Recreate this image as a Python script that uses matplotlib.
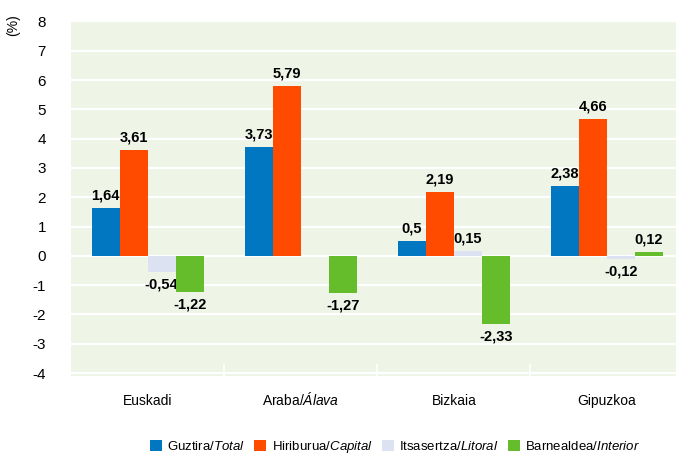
import numpy as np
import matplotlib
matplotlib.use('Agg')
import matplotlib.pyplot as plt
from matplotlib.ticker import FixedLocator

# ------------------------------------------------------------
# data
# ------------------------------------------------------------
categories = ['Euskadi', r'Araba/$\it{Álava}$', 'Bizkaia', 'Gipuzkoa']
series_names = [r'Guztira/$\it{Total}$', r'Hiriburua/$\it{Capital}$',
                r'Itsasertza/$\it{Litoral}$', r'Barnealdea/$\it{Interior}$']
total = [1.64, 3.73, 0.5, 2.38]
capital = [3.61, 5.79, 2.19, 4.66]
litoral = [-0.54, np.nan, 0.15, -0.12]
interior = [-1.22, -1.27, -2.33, 0.12]
yticks = list(range(-4, 9))

colors = ['#0077c0', '#ff4b00', '#dce2f1', '#66bd2b']
BG = '#eef4e6'

FONT = ['Liberation Sans', 'DejaVu Sans']
plt.rcParams['font.family'] = FONT
plt.rcParams['mathtext.fontset'] = 'custom'
plt.rcParams['mathtext.rm'] = 'Liberation Sans'
plt.rcParams['mathtext.it'] = 'Liberation Sans:italic'
plt.rcParams['mathtext.bf'] = 'Liberation Sans:bold'

W, H = 676, 457
fig = plt.figure(figsize=(W / 100, H / 100), dpi=100)
ax = fig.add_axes([71 / W, (H - 376) / H, (W - 71) / W, (376 - 20) / H])
ax.set_facecolor(BG)

x = np.arange(len(categories))
bw = 0.183
series = [total, capital, litoral, interior]
for i, (vals, c, name) in enumerate(zip(series, colors, series_names)):
    pos = x + (i - 1.5) * bw
    vals = np.array(vals, dtype=float)
    ax.bar(pos, vals, width=bw, color=c, label=name, zorder=3)
    for px, v in zip(pos, vals):
        if np.isnan(v):
            continue
        txt = f'{v:g}'.replace('.', ',')
        if v >= 0:
            ax.annotate(txt, (px, v), xytext=(0, 4), textcoords='offset points',
                        ha='center', va='bottom', fontsize=10.5, fontweight='bold')
        else:
            ax.annotate(txt, (px, v), xytext=(0, -4), textcoords='offset points',
                        ha='center', va='top', fontsize=10.5, fontweight='bold')

ax.set_ylim(-4.1, 8.05)
ax.set_xlim(-0.5, 3.45)
ax.set_yticks(yticks)
ax.set_yticklabels([str(t) for t in yticks], fontsize=11)
ax.grid(True, axis='y', color='white', linewidth=1.6, zorder=1)
ax.set_axisbelow(True)
for s in ax.spines.values():
    s.set_visible(False)
ax.tick_params(axis='y', length=0, pad=18)

ax.set_xticks(x)
ax.set_xticklabels(categories, fontsize=10, va='baseline')
ax.tick_params(axis='x', which='major', length=0, pad=21)
ax.xaxis.set_minor_locator(FixedLocator([0.5, 1.5, 2.5]))
ax.tick_params(axis='x', which='minor', direction='in', length=9, width=1.2, color='white')

fig.text(13 / W, 1 - 25 / H, '(%)', rotation=90, ha='center', va='center', fontsize=10)

leg = fig.legend(loc='center', bbox_to_anchor=(395 / W, 1 - 447 / H), ncol=4, frameon=False,
                 fontsize=9.5, handlelength=0.9, handleheight=0.9, handletextpad=0.4,
                 columnspacing=0.7)

fig.savefig('out.png', dpi=100)
